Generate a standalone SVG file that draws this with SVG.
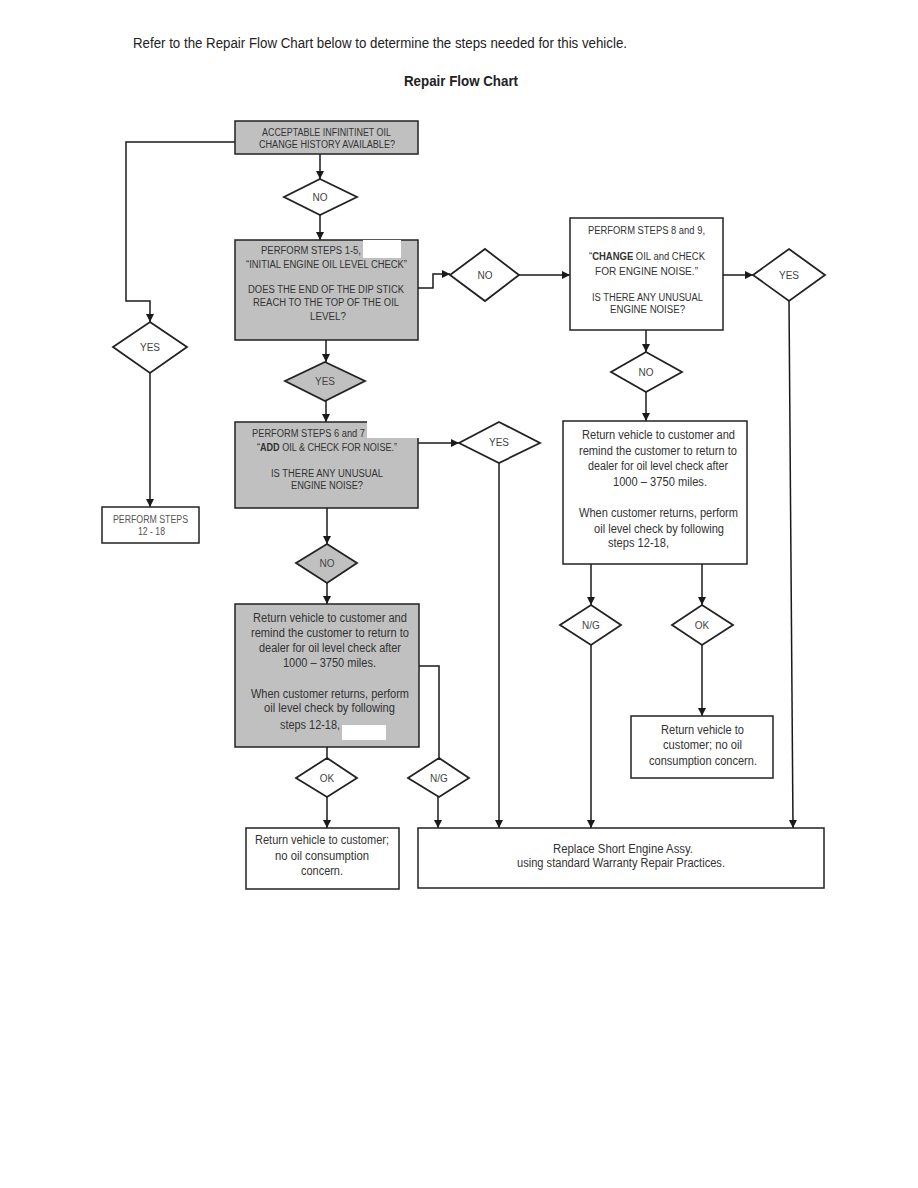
<svg xmlns="http://www.w3.org/2000/svg" width="918" height="1188" viewBox="0 0 918 1188">
<defs>
<marker id="ah" markerUnits="userSpaceOnUse" markerWidth="9" markerHeight="9" refX="8" refY="4" orient="auto">
<path d="M0,0 L8,4 L0,8 z" fill="#1a1a1a"/>
</marker>
<style>
text{font-family:"Liberation Sans",Arial,sans-serif;fill:#333;}
.t{font-size:14px;fill:#222;}
.h{font-size:14px;font-weight:bold;fill:#222;}
.s{font-size:10px;text-anchor:middle;}
.m{font-size:12px;text-anchor:middle;}
.d{font-size:10px;text-anchor:middle;fill:#444;}
.g{fill:#c0c0c0;stroke:#222;stroke-width:1.5;}
.w{fill:#fff;stroke:#222;stroke-width:1.5;}
.dg{fill:#c0c0c0;stroke:#222;stroke-width:1.8;}
.dw{fill:#fff;stroke:#222;stroke-width:1.8;}
.c{fill:none;stroke:#1a1a1a;stroke-width:1.5;}
.a{marker-end:url(#ah);}
.r{fill:#fff;stroke:none;}
</style>
</defs>
<rect width="918" height="1188" fill="#fff"/>
<text class="t" x="133" y="48" textLength="494" lengthAdjust="spacingAndGlyphs">Refer to the Repair Flow Chart below to determine the steps needed for this vehicle.</text>
<text class="h" x="404" y="86" textLength="114" lengthAdjust="spacingAndGlyphs">Repair Flow Chart</text>

<g id="connectors">
<path class="c a" d="M320,154 V179"/>
<path class="c a" d="M320,215 V240"/>
<path class="c a" d="M235,142 H126 V301 H150 V322"/>
<path class="c a" d="M150,373 V507"/>
<path class="c a" d="M418,288 H433 V274 H450"/>
<path class="c a" d="M519,275 H570"/>
<path class="c a" d="M723,275 H753"/>
<path class="c a" d="M789,301 L793,828"/>
<path class="c a" d="M646,330 V352"/>
<path class="c a" d="M646,392 V421"/>
<path class="c a" d="M326,340 V362"/>
<path class="c a" d="M326,401 V422"/>
<path class="c a" d="M418,443 H459"/>
<path class="c a" d="M499,463 V828"/>
<path class="c a" d="M327,508 V544"/>
<path class="c a" d="M327,583 V604"/>
<path class="c" d="M419,666 H439 V758"/>
<path class="c" d="M327,747 V758"/>
<path class="c a" d="M327,797 V828"/>
<path class="c a" d="M438,797 V828"/>
<path class="c a" d="M591,564 V605"/>
<path class="c a" d="M702,564 V605"/>
<path class="c a" d="M591,645 V828"/>
<path class="c a" d="M702,645 V716"/>
</g>

<g id="box1">
<rect class="g" x="235" y="121" width="183" height="33"/>
<text class="s" x="326.5" y="136" textLength="129" lengthAdjust="spacingAndGlyphs">ACCEPTABLE INFINITINET OIL</text>
<text class="s" x="327" y="148" textLength="136" lengthAdjust="spacingAndGlyphs">CHANGE HISTORY AVAILABLE?</text>
</g>

<g id="dNo1">
<polygon class="dw" points="320,179 357,197 320,215 284,197"/>
<text class="d" x="320" y="201">NO</text>
</g>

<g id="box2">
<rect class="g" x="235" y="240" width="183" height="100"/>
<rect class="r" x="363" y="240" width="38" height="18"/>
<text class="s" x="311" y="254" textLength="100" lengthAdjust="spacingAndGlyphs">PERFORM STEPS 1-5,</text>
<text class="s" x="326.5" y="268" textLength="161" lengthAdjust="spacingAndGlyphs">“INITIAL ENGINE OIL LEVEL CHECK”</text>
<text class="s" x="326" y="293" textLength="156" lengthAdjust="spacingAndGlyphs">DOES THE END OF THE DIP STICK</text>
<text class="s" x="326" y="306" textLength="146" lengthAdjust="spacingAndGlyphs">REACH TO THE TOP OF THE OIL</text>
<text class="s" x="328" y="320" textLength="36" lengthAdjust="spacingAndGlyphs">LEVEL?</text>
</g>

<g id="dNo2">
<polygon class="dw" points="485,249 519,275 485,301 450,275"/>
<text class="d" x="485" y="279">NO</text>
</g>

<g id="box3">
<rect class="w" x="570" y="218" width="153" height="112"/>
<text class="s" x="646.5" y="234" textLength="117" lengthAdjust="spacingAndGlyphs">PERFORM STEPS 8 and 9,</text>
<text class="s" x="647" y="260" textLength="116" lengthAdjust="spacingAndGlyphs">“<tspan font-weight="bold">CHANGE</tspan> OIL and CHECK</text>
<text class="s" x="646.5" y="275" textLength="103" lengthAdjust="spacingAndGlyphs">FOR ENGINE NOISE.”</text>
<text class="s" x="647.5" y="301" textLength="111" lengthAdjust="spacingAndGlyphs">IS THERE ANY UNUSUAL</text>
<text class="s" x="647.5" y="313" textLength="75" lengthAdjust="spacingAndGlyphs">ENGINE NOISE?</text>
</g>

<g id="dYesRight">
<polygon class="dw" points="789,249 825,275 789,301 753,275"/>
<text class="d" x="789" y="279">YES</text>
</g>

<g id="dYesLeft">
<polygon class="dw" points="150,322 187,347 150,373 113,347"/>
<text class="d" x="150" y="351">YES</text>
</g>

<g id="boxSteps">
<rect class="w" x="102" y="507" width="97" height="36"/>
<text class="s" x="150.5" y="523" style="fill:#555" textLength="75" lengthAdjust="spacingAndGlyphs">PERFORM STEPS</text>
<text class="s" x="151.5" y="535" style="fill:#555" textLength="27" lengthAdjust="spacingAndGlyphs">12 - 18</text>
</g>

<g id="dYesGray">
<polygon class="dg" points="325,362 365,381 325,401 285,381"/>
<text class="d" x="325" y="385">YES</text>
</g>

<g id="box4">
<rect class="g" x="235" y="422" width="183" height="86"/>
<rect class="r" x="367" y="421" width="53" height="17"/>
<text class="s" x="308.5" y="437" textLength="113" lengthAdjust="spacingAndGlyphs">PERFORM STEPS 6 and 7</text>
<text class="s" x="327" y="451" textLength="140" lengthAdjust="spacingAndGlyphs">“<tspan font-weight="bold">ADD</tspan> OIL &amp; CHECK FOR NOISE.”</text>
<text class="s" x="327" y="477" textLength="112" lengthAdjust="spacingAndGlyphs">IS THERE ANY UNUSUAL</text>
<text class="s" x="327" y="489" textLength="72" lengthAdjust="spacingAndGlyphs">ENGINE NOISE?</text>
</g>

<g id="dYesMid">
<polygon class="dw" points="499,422 540,443 499,463 459,443"/>
<text class="d" x="499" y="446">YES</text>
</g>

<g id="dNoRight">
<polygon class="dw" points="646,352 682,372 646,392 611,372"/>
<text class="d" x="646" y="376">NO</text>
</g>

<g id="box5">
<rect class="w" x="563" y="421" width="184" height="143"/>
<text class="m" x="658.5" y="439" textLength="153" lengthAdjust="spacingAndGlyphs">Return vehicle to customer and</text>
<text class="m" x="658" y="455" textLength="158" lengthAdjust="spacingAndGlyphs">remind the customer to return to</text>
<text class="m" x="658" y="470" textLength="140" lengthAdjust="spacingAndGlyphs">dealer for oil level check after</text>
<text class="m" x="660" y="486" textLength="94" lengthAdjust="spacingAndGlyphs">1000 – 3750 miles.</text>
<text class="m" x="658.5" y="517" textLength="159" lengthAdjust="spacingAndGlyphs">When customer returns, perform</text>
<text class="m" x="659" y="533" textLength="130" lengthAdjust="spacingAndGlyphs">oil level check by following</text>
<text class="m" x="638.5" y="547" textLength="61" lengthAdjust="spacingAndGlyphs">steps 12-18,</text>
</g>

<g id="dNoGray">
<polygon class="dg" points="327,544 357,563 327,583 296,563"/>
<text class="d" x="327" y="567">NO</text>
</g>

<g id="box7">
<rect class="g" x="235" y="604" width="184" height="143"/>
<rect class="r" x="342" y="725" width="44" height="15"/>
<text class="m" x="330" y="622" textLength="154" lengthAdjust="spacingAndGlyphs">Return vehicle to customer and</text>
<text class="m" x="330" y="637" textLength="158" lengthAdjust="spacingAndGlyphs">remind the customer to return to</text>
<text class="m" x="330" y="652" textLength="142" lengthAdjust="spacingAndGlyphs">dealer for oil level check after</text>
<text class="m" x="329.5" y="667" textLength="93" lengthAdjust="spacingAndGlyphs">1000 – 3750 miles.</text>
<text class="m" x="330" y="698" textLength="158" lengthAdjust="spacingAndGlyphs">When customer returns, perform</text>
<text class="m" x="329.5" y="712" textLength="131" lengthAdjust="spacingAndGlyphs">oil level check by following</text>
<text class="m" x="310" y="729" textLength="60" lengthAdjust="spacingAndGlyphs">steps 12-18,</text>
</g>

<g id="dNgRight">
<polygon class="dw" points="591,605 621,625 591,645 560,625"/>
<text class="d" x="591" y="629">N/G</text>
</g>

<g id="dOkRight">
<polygon class="dw" points="702,605 733,625 702,645 672,625"/>
<text class="d" x="702" y="629">OK</text>
</g>

<g id="box6">
<rect class="w" x="631" y="716" width="142" height="62"/>
<text class="m" x="702.5" y="734" textLength="83" lengthAdjust="spacingAndGlyphs">Return vehicle to</text>
<text class="m" x="702.5" y="749" textLength="79" lengthAdjust="spacingAndGlyphs">customer; no oil</text>
<text class="m" x="703" y="765" textLength="108" lengthAdjust="spacingAndGlyphs">consumption concern.</text>
</g>

<g id="dOkLeft">
<polygon class="dw" points="327,758 357,778 327,797 296,778"/>
<text class="d" x="327" y="782">OK</text>
</g>

<g id="dNgLeft">
<polygon class="dw" points="439,758 469,778 439,797 408,778"/>
<text class="d" x="439" y="782">N/G</text>
</g>

<g id="boxBottomLeft">
<rect class="w" x="246" y="828" width="153" height="61"/>
<text class="m" x="322" y="844" textLength="134" lengthAdjust="spacingAndGlyphs">Return vehicle to customer;</text>
<text class="m" x="322" y="860" textLength="94" lengthAdjust="spacingAndGlyphs">no oil consumption</text>
<text class="m" x="322" y="875" textLength="42" lengthAdjust="spacingAndGlyphs">concern.</text>
</g>

<g id="boxBottomRight">
<rect class="w" x="418" y="828" width="406" height="60"/>
<text class="m" x="623" y="853" textLength="140" lengthAdjust="spacingAndGlyphs">Replace Short Engine Assy.</text>
<text class="m" x="621" y="867" textLength="208" lengthAdjust="spacingAndGlyphs">using standard Warranty Repair Practices.</text>
</g>
</svg>
